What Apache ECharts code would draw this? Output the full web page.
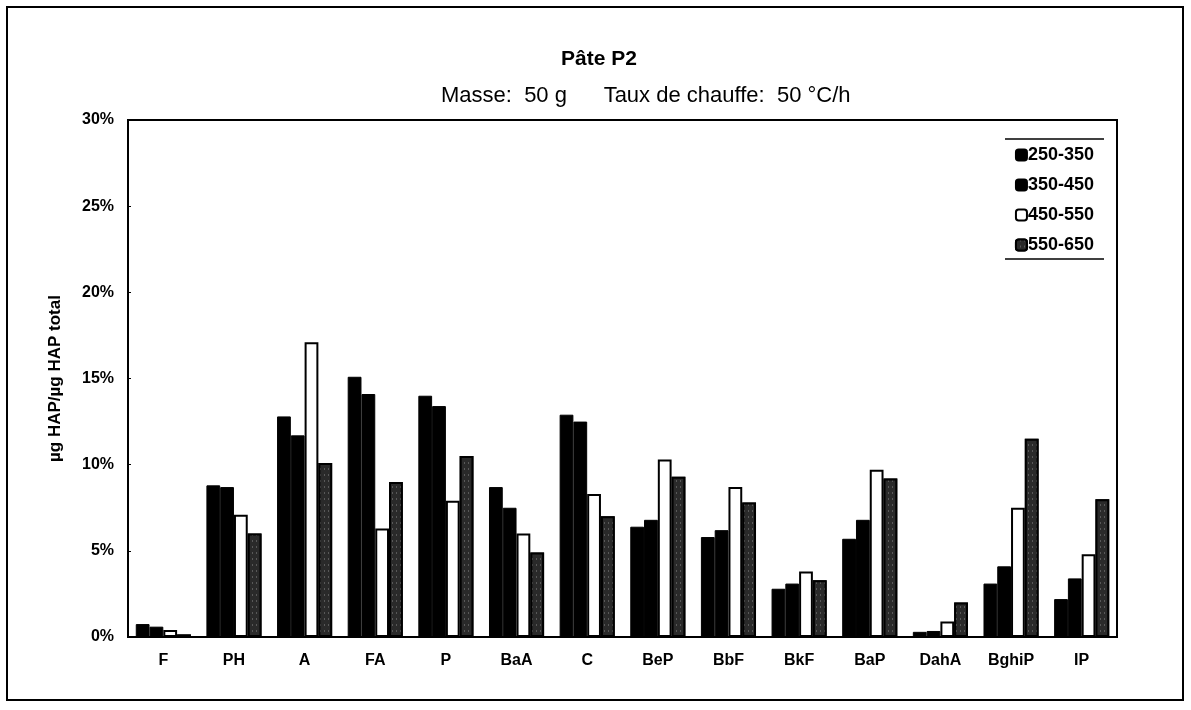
<!DOCTYPE html>
<html>
<head>
<meta charset="utf-8">
<script src="https://cdn.jsdelivr.net/npm/echarts@6/dist/echarts.min.js"></script>
<style>
html,body{margin:0;padding:0;background:#fff;}
#chart{width:1191px;height:710px;}
</style>
</head>
<body>
<div id="chart"></div>
<script>
var categories = ['F','PH','A','FA','P','BaA','C','BeP','BbF','BkF','BaP','DahA','BghiP','IP'];
var seriesNames = ['250-350','350-450','450-550','550-650'];
var s250_350 = [0.75, 8.8, 12.8, 15.1, 14.0, 8.7, 12.9, 6.4, 5.8, 2.8, 5.7, 0.3, 3.1, 2.2];
var s350_450 = [0.6, 8.7, 11.7, 14.1, 13.4, 7.5, 12.5, 6.8, 6.2, 3.1, 6.8, 0.35, 4.1, 3.4];
var s450_550 = [0.4, 7.1, 17.1, 6.3, 7.9, 6.0, 8.3, 10.3, 8.7, 3.8, 9.7, 0.9, 7.5, 4.8];
var s550_650 = [0.15, 6.0, 10.1, 9.0, 10.5, 4.9, 7.0, 9.3, 7.8, 3.3, 9.2, 2.0, 11.5, 8.0];
var yTicks = [0, 5, 10, 15, 20, 25, 30];

var chart = echarts.init(document.getElementById('chart'), null, {renderer:'canvas'});
var font = 'Arial, "Liberation Sans", sans-serif';
var option = {
  backgroundColor:'#fff',
  animation:false,
  title:[
    {text:'Pâte P2', left:556, top:44, textStyle:{fontFamily:font, fontSize:21, fontWeight:'bold', color:'#000'}},
    {text:'Masse:  50 g      Taux de chauffe:  50 °C/h', left:436, top:80, textStyle:{fontFamily:font, fontSize:22, fontWeight:'normal', color:'#000'}}
  ],
  legend:{
    orient:'vertical', right:92, top:141, itemGap:12, itemWidth:11, itemHeight:11,
    icon:'roundRect',
    textStyle:{fontFamily:font, fontSize:18, fontWeight:'bold', color:'#000', padding:[0,0,0,-4]},
    data:seriesNames
  },
  grid:{left:128, right:74, top:120, bottom:73, show:true, borderColor:'#000', borderWidth:2, backgroundColor:'transparent'},
  xAxis:{
    type:'category', data:categories,
    axisLine:{lineStyle:{color:'#000', width:2}},
    axisTick:{show:false},
    axisLabel:{fontFamily:font, fontSize:16, fontWeight:'bold', color:'#000', margin:16}
  },
  yAxis:{
    type:'value', min:yTicks[0], max:yTicks[yTicks.length-1], interval:5,
    name:'µg HAP/µg HAP total', nameLocation:'middle', nameGap:64,
    nameTextStyle:{fontFamily:font, fontSize:17, fontWeight:'bold', color:'#000'},
    axisLine:{show:true, lineStyle:{color:'#000', width:2}},
    axisTick:{show:true, inside:true, length:3, lineStyle:{color:'#000'}},
    splitLine:{show:false},
    axisLabel:{fontFamily:font, fontSize:16, fontWeight:'bold', color:'#000', margin:14, formatter:'{value}%'}
  },
  series:[
    {name:seriesNames[0], type:'bar', data:s250_350, barGap:'0%', barCategoryGap:'22%',
     itemStyle:{color:'#000', borderColor:'#000', borderWidth:1}},
    {name:seriesNames[1], type:'bar', data:s350_450,
     itemStyle:{color:'#000', borderColor:'#000', borderWidth:1}},
    {name:seriesNames[2], type:'bar', data:s450_550,
     itemStyle:{color:'#fff', borderColor:'#000', borderWidth:2}},
    {name:seriesNames[3], type:'bar', data:s550_650,
     itemStyle:{color:'#3a3a3a', borderColor:'#000', borderWidth:2,
       decal:{symbol:'rect', symbolSize:0.6, color:'rgba(255,255,255,0.75)', backgroundColor:'#2a2a2a', dashArrayX:[[1,3]], dashArrayY:[2,4], rotation:0}}}
  ],
  graphic:[
    {type:'rect', shape:{x:7, y:7, width:1176, height:693}, style:{fill:null, stroke:'#000', lineWidth:2}, silent:true, z:-1},
    {type:'line', shape:{x1:1005, y1:139, x2:1104, y2:139}, style:{stroke:'#000', lineWidth:1.5}},
    {type:'line', shape:{x1:1005, y1:259, x2:1104, y2:259}, style:{stroke:'#000', lineWidth:1.5}}
  ]
};
chart.setOption(option);
</script>
</body>
</html>
